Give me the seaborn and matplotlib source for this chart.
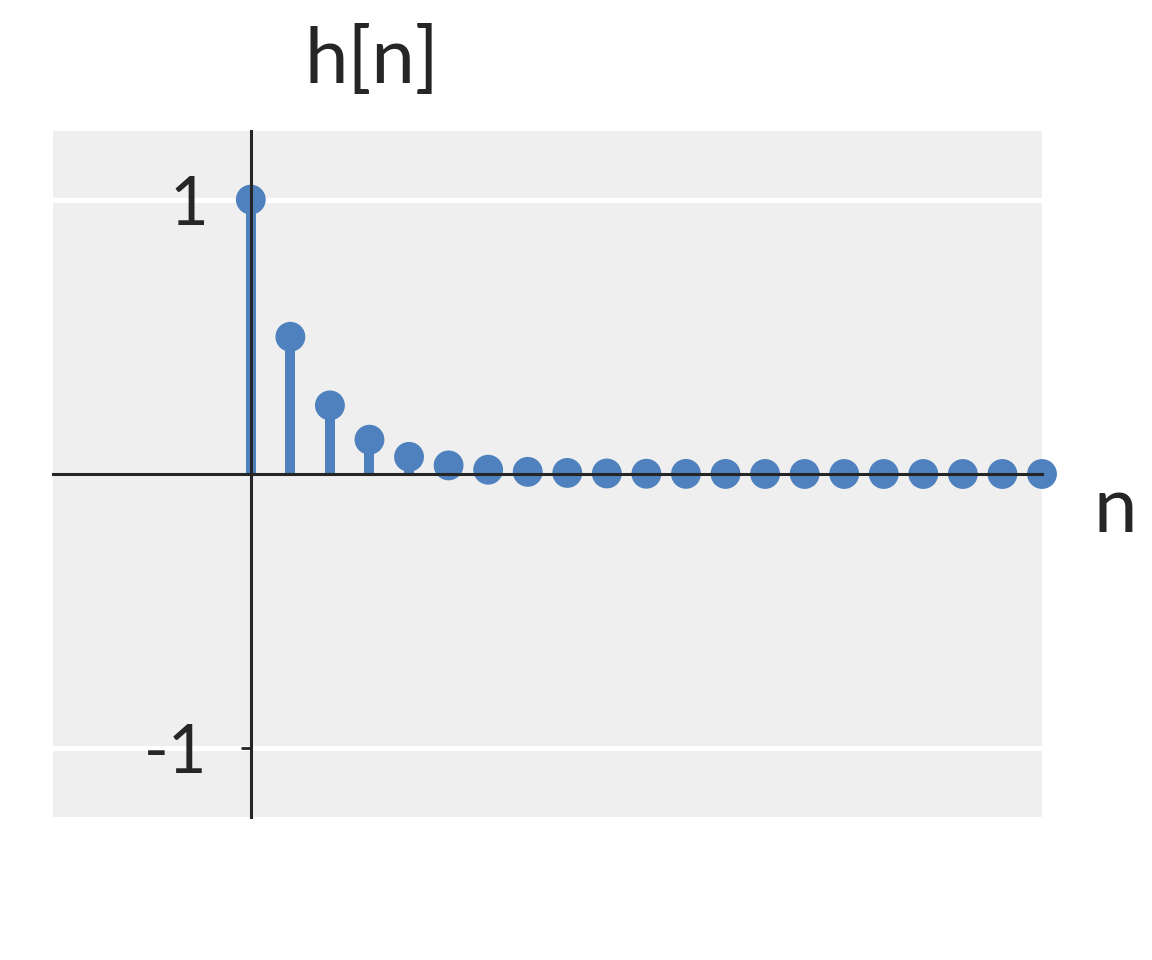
import matplotlib
matplotlib.use("Agg")
import matplotlib.pyplot as plt
import seaborn as sns
import pandas as pd

n_values = [0, 1, 2, 3, 4, 5, 6, 7, 8, 9, 10, 11, 12, 13, 14, 15, 16, 17, 18, 19, 20]
h_values = [1.0, 0.5, 0.25, 0.125, 0.0625, 0.03125, 0.015625, 0.0078125,
            0.00390625, 0.001953125, 0.0009765625, 0.00048828125,
            0.000244140625, 0.0001220703125, 0.00006103515625,
            0.000030517578125, 0.0000152587890625, 0.00000762939453125,
            0.000003814697265625, 0.0000019073486328125, 0.00000095367431640625]
y_ticks = [-1, 1]
y_ticklabels = ["-1", "1"]

df = pd.DataFrame({"n": n_values, "h": h_values})

sns.set_theme(style="darkgrid", rc={"axes.facecolor": "#efefef", "grid.color": "white"})
plt.rcParams["font.family"] = ["Lato", "DejaVu Sans"]

color = "#4e81bd"
fig = plt.figure(figsize=(11.52, 9.6), dpi=100)
ax = fig.add_axes([53/1152, 1-817/960, (1042-53)/1152, (817-131)/960])

ax.vlines(df["n"], 0, df["h"], color=color, linewidth=7.2, zorder=1.5)
sns.scatterplot(data=df, x="n", y="h", ax=ax, color=color, s=21.5**2,
                edgecolor="none", linewidth=0, zorder=1.6, legend=False,
                clip_on=False)

ax.set_xlim(-5, 20)
ax.set_ylim(-1.25, 1.25)
ax.set_xticks([])
ax.set_yticks(y_ticks)
ax.set_yticklabels(y_ticklabels)
ax.set_xlabel("")
ax.set_ylabel("")
ax.grid(axis="x", visible=False)
ax.grid(axis="y", color="white", linewidth=3.6)

for s in ["top", "right"]:
    ax.spines[s].set_visible(False)
ax.spines["left"].set_position(("data", 0))
ax.spines["bottom"].set_position(("data", 0))
for s in ["left", "bottom"]:
    ax.spines[s].set_visible(True)
    ax.spines[s].set_color("#262626")
    ax.spines[s].set_linewidth(2.2)
    ax.spines[s].set_zorder(3)

ax.tick_params(axis="y", which="major", left=True, length=7, width=2,
               color="#262626", labelsize=48, pad=24, labelcolor="#262626")

fig.text(372/1152, 1-62/960, "h[n]", fontsize=56, color="#262626",
         ha="center", va="center")
fig.text(1115/1152, 1-510/960, "n", fontsize=56, color="#262626",
         ha="center", va="center")

fig.savefig("out.png", dpi=100)
